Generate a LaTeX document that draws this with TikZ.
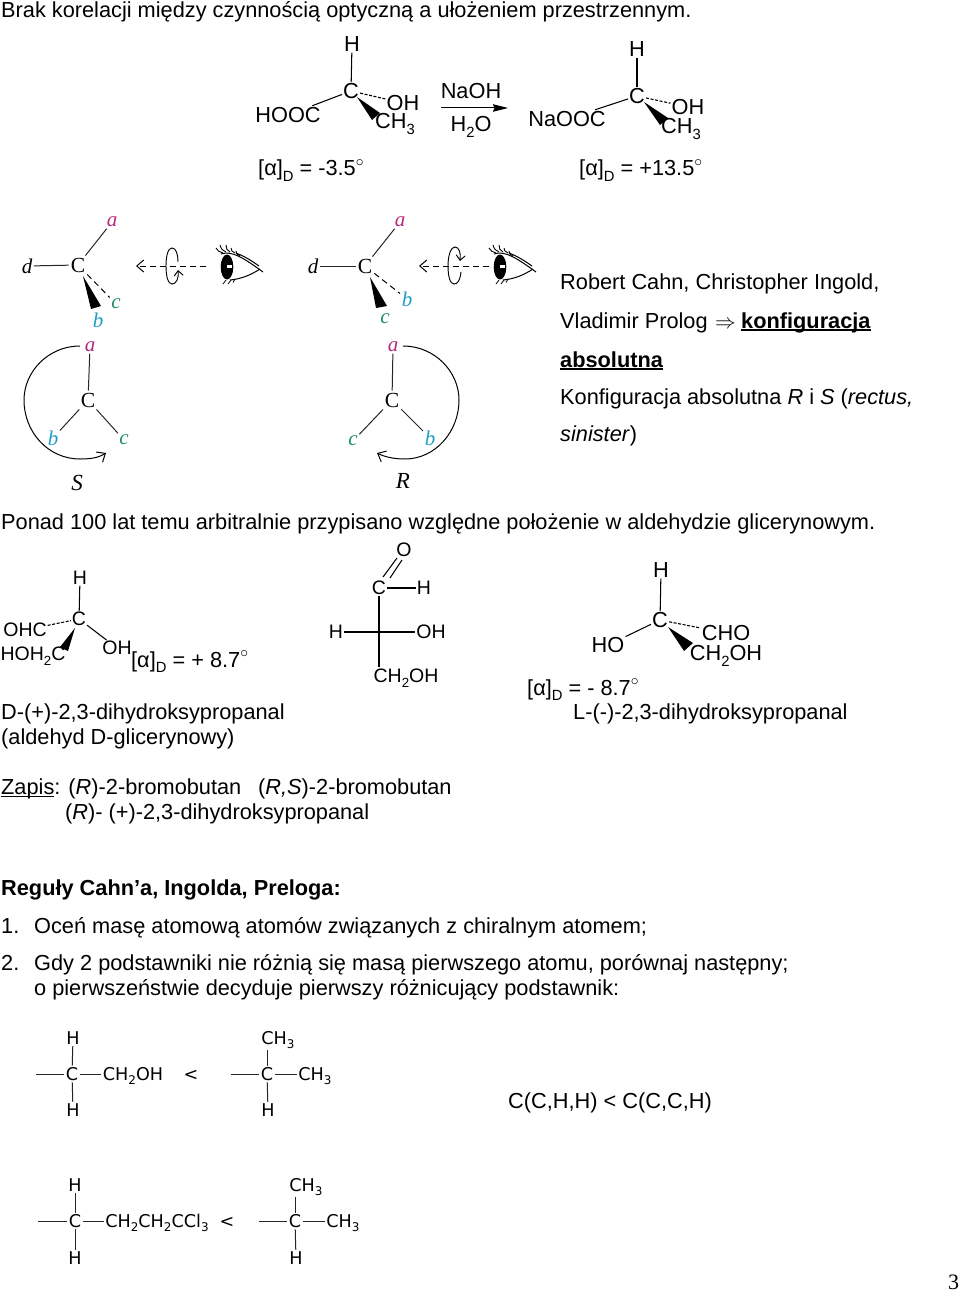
\documentclass[tikz,border=0pt]{standalone}
\usepackage{fontspec}
\usepackage{graphicx}
\setmainfont{Liberation Sans}
\newfontfamily\timesf{Liberation Serif}
\newfontfamily\dejaf{DejaVu Sans}
\usetikzlibrary{arrows.meta}
\definecolor{cma}{HTML}{B52A7C}
\definecolor{cmb}{HTML}{1E9DC4}
\definecolor{cmc}{HTML}{1F8A72}
\newcommand\lowr[1]{\raisebox{-0.24em}{\scalebox{0.68}{#1}}}
\newcommand\degr{\raisebox{0.42em}{\scalebox{0.75}{$\circ$}}}
\newsavebox\ubox
\newcommand\ubar[2][1.4pt]{\sbox\ubox{#2}\usebox\ubox\llap{\rule[-2.8pt]{\wd\ubox}{#1}}}
\tikzset{
  x=1pt,y=-1pt,
  txt/.style={anchor=base west,inner sep=0pt,font=\fontsize{21.75}{26}\selectfont},
  boldtxt/.style={txt,font=\fontsize{21.75}{26}\selectfont\bfseries},
  atom/.style={inner sep=1pt,font=\fontsize{21.75}{26}\selectfont},
  smatom/.style={inner sep=0.8pt,font=\fontsize{19.5}{24}\selectfont},
  serif/.style={inner sep=2pt,font=\fontsize{21.5}{26}\selectfont\timesf},
  lab/.style={inner sep=1.5pt,font=\fontsize{21}{24}\selectfont\timesf\itshape},
  dj/.style={inner sep=1.5pt,font=\fontsize{17.6}{22}\selectfont\dejaf},
  bond/.style={line width=1.05pt,black},
  dbond/.style={line width=1.1pt,dash pattern=on 3pt off 1.6pt},
  rbond/.style={line width=1pt,black!85},
  rdash/.style={line width=1pt,dash pattern=on 6pt off 4pt},
  barb/.style={-{Straight Barb[length=7pt,width=12pt]}},
  loopline/.style={line width=0.95pt,-{Straight Barb[length=5pt,width=9pt]}},
  pics/eyeview/.style={code={
    \fill (0,0) ellipse [x radius=6.3,y radius=12.5];
    \fill[white] (-0.5,-2.5) rectangle (4.5,1);
    \draw[line width=1pt] (-6,-13) .. controls (5,-17) and (18,-8) .. (36,5);
    \draw[line width=1pt] (9,-14) .. controls (17,-11) and (25,-6) .. (32,-1);
    \draw[line width=1pt] (3,13) .. controls (14,12) and (24,8) .. (33,2);
    \draw[line width=0.9pt] (-4,-14) .. controls (-7,-15) and (-10,-16) .. (-11,-19)
       (-1,-15) .. controls (-4,-16) and (-6,-18) .. (-7,-22)
       (3,-15) .. controls (0,-16) and (-1,-19) .. (-1,-22)
       (8,-14) .. controls (5,-15) and (4,-17) .. (4,-19)
       (13,-11) .. controls (10,-12) and (9,-14) .. (9,-16);
    \draw[line width=0.8pt] (-4,17) -- (-1,13) (1,17) -- (4,13) (6,15.5) -- (8,12);
  }}
}
\begin{document}
\begin{tikzpicture}
\useasboundingbox (0,0) rectangle (960,1292);
% --- paragraph text
\node[txt] (t1) at (1,18) {Brak korelacji między czynnością optyczną a ułożeniem przestrzennym.};
\node[txt] (r1) at (560,289) {Robert Cahn, Christopher Ingold,};
\node[txt] (r2) at (560,328) {Vladimir Prolog};
\node[txt] (r2a) at (715,328) {$\Rightarrow$};
\node[boldtxt] (r2b) at (741,328) {\ubar{konfiguracja}};
\node[boldtxt] (r3) at (560,367) {\ubar{absolutna}};
\node[txt] (r4) at (560,404) {Konfiguracja absolutna \textit{R} i \textit{S} (\textit{rectus,}};
\node[txt] (r5) at (560,441) {\textit{sinister})};
\node[txt] (t2) at (1,529) {Ponad 100 lat temu arbitralnie przypisano względne położenie w aldehydzie glicerynowym.};
\node[txt] (d1) at (1,719) {D-(+)-2,3-dihydroksypropanal};
\node[txt] (d2) at (1,744) {(aldehyd D-glicerynowy)};
\node[txt] (l1) at (573,719) {L-(-)-2,3-dihydroksypropanal};
\node[txt] (z1) at (1,794) {\ubar[1pt]{Zapis}: (\textit{R})-2-bromobutan};
\node[txt] (z2) at (258,794) {(\textit{R,S})-2-bromobutan};
\node[txt] (z3) at (65,819) {(\textit{R})- (+)-2,3-dihydroksypropanal};
\node[boldtxt] (h1) at (1,895) {Reguły Cahn’a, Ingolda, Preloga:};
\node[txt] (n1) at (1,933) {1.};
\node[txt] (n1t) at (34,933) {Oceń masę atomową atomów związanych z chiralnym atomem;};
\node[txt] (n2) at (1,970) {2.};
\node[txt] (n2t) at (34,970) {Gdy 2 podstawniki nie różnią się masą pierwszego atomu, porównaj następny;};
\node[txt] (n3t) at (34,995) {o pierwszeństwie decyduje pierwszy różnicujący podstawnik:};
\node[txt] (ccc) at (508,1108) {C(C,H,H) < C(C,C,H)};
\node[txt,font=\fontsize{22}{26}\selectfont\timesf] (pg) at (948,1289) {3};

% --- reaction
\node[atom] (aH) at (352,44) {H};
\node[atom] (aC) at (351,91) {C};
\node[atom] (aOH) at (403,103) {OH};
\node[atom] (aCH) at (395,124) {CH\lowr{3}};
\node[atom] (aR) at (288,115) {HOOC};
\draw[bond] (aH) -- (aC);
\draw[bond,shorten <=1pt] (aR) -- (aC);
\draw[dbond] (aC) -- (aOH);
\fill (357,97) -- (372,120) -- (380,113) -- cycle;
\node[txt] (aa) at (258,176) {[α]\lowr{D} = -3.5\degr};
\node[atom] (bH) at (637,49) {H};
\node[atom] (bC) at (637,96) {C};
\node[atom] (bOH) at (688,107) {OH};
\node[atom] (bCH) at (681,129) {CH\lowr{3}};
\node[atom] (bR) at (567,119) {NaOOC};
\draw[bond] (bH) -- (bC);
\draw[bond,shorten <=1pt] (bR) -- (bC);
\draw[dbond] (bC) -- (bOH);
\fill (644,102) -- (660,125) -- (668,118) -- cycle;
\node[txt] (ba) at (579,176) {[α]\lowr{D} = +13.5\degr};
\node[atom] (naoh) at (471,91) {NaOH};
\node[atom] (h2o) at (471,127) {H\lowr{2}O};
\coordinate (ra) at (441,108);
\coordinate (rb) at (508,108);
\draw[line width=1pt,-{Stealth[length=15pt,width=7.5pt,inset=1.5pt]}] (ra) -- (rb);

% --- left perspective
\node[serif] (c1) at (78,265) {C};
\node[lab,text=cma] (c1a) at (112,222) {a};
\node[lab] (c1d) at (27,266) {d};
\node[lab,text=cmc] (c1c) at (116,304) {c};
\node[lab,text=cmb] (c1b) at (98,320) {b};
\draw[rbond] (c1) -- (c1a);
\draw[rbond] (c1) -- (c1d);
\draw[rdash] (c1) -- (c1c);
\fill (83,276) -- (91,309) -- (101,306) -- cycle;
\coordinate (e1s) at (206,266);
\coordinate (e1t) at (136,266);
\draw[rdash,barb] (e1s) -- (e1t);
\draw[loopline] (178,262) .. controls (178,254) and (176,248) .. (172,248) .. controls (168,248) and (166,256) .. (166,266) .. controls (166,276) and (168,284) .. (172,284) .. controls (176,284) and (179,279) .. (178,270);
\pic at (227,267) {eyeview};
\node[serif] (c2) at (88,400) {C};
\node[lab,text=cma] (c2a) at (90,347) {a};
\node[lab,text=cmb] (c2b) at (53,438) {b};
\node[lab,text=cmc] (c2c) at (124,440) {c};
\node[lab,font=\fontsize{23}{26}\selectfont\timesf\itshape] (c2s) at (77,483) {S};
\draw[rbond] (c2) -- (c2a);
\draw[rbond] (c2) -- (c2b);
\draw[rbond] (c2) -- (c2c);
\coordinate (s1) at (80,346);
\coordinate (s2) at (106,453);
\draw[line width=1pt,barb] (s1) .. controls (48,346) and (24,372) .. (24,400) .. controls (24,432) and (48,459) .. (80,459) .. controls (90,459) and (98,458) .. (s2);

% --- right perspective
\node[serif] (c3) at (365,266) {C};
\node[lab,text=cma] (c3a) at (400,222) {a};
\node[lab] (c3d) at (313,266) {d};
\node[lab,text=cmb] (c3b) at (407,299) {b};
\node[lab,text=cmc] (c3c) at (385,319) {c};
\draw[rbond] (c3) -- (c3a);
\draw[rbond] (c3) -- (c3d);
\draw[rdash] (c3) -- (c3b);
\fill (370,277) -- (376,308) -- (387,306) -- cycle;
\coordinate (e2s) at (489,266);
\coordinate (e2t) at (419,266);
\draw[rdash,barb] (e2s) -- (e2t);
\draw[loopline] (461,272) .. controls (460,280) and (458,284) .. (454,284) .. controls (450,284) and (448,276) .. (448,266) .. controls (448,255) and (451,247) .. (455,247) .. controls (459,247) and (461,253) .. (460,261);
\pic at (500,267) {eyeview};
\node[serif] (c4) at (392,400) {C};
\node[lab,text=cma] (c4a) at (393,347) {a};
\node[lab,text=cmc] (c4c) at (353,441) {c};
\node[lab,text=cmb] (c4b) at (430,438) {b};
\node[lab,font=\fontsize{23}{26}\selectfont\timesf\itshape] (c4r) at (403,481) {R};
\draw[rbond] (c4) -- (c4a);
\draw[rbond] (c4) -- (c4c);
\draw[rbond] (c4) -- (c4b);
\coordinate (q1) at (403,346);
\coordinate (q2) at (377,453);
\draw[line width=1pt,barb] (q1) .. controls (435,346) and (459,372) .. (459,400) .. controls (459,432) and (435,459) .. (405,459) .. controls (394,459) and (385,457) .. (q2);

% --- D-glyceraldehyde
\node[smatom] (dH) at (80,578) {H};
\node[smatom] (dC) at (79,619) {C};
\node[smatom] (dO) at (25,630) {OHC};
\node[smatom] (dOH) at (117,648) {OH};
\node[smatom] (dCH) at (33,656) {HOH\lowr{2}C};
\draw[bond] (dH) -- (dC);
\draw[bond] (dC) -- (dOH);
\draw[dbond] (dO) -- (dC);
\fill (75,628) -- (60,647) -- (68,651) -- cycle;
\node[txt] (da) at (131,667) {[α]\lowr{D} = + 8.7\degr};

% --- Fischer
\node[smatom] (fO) at (404,550) {O};
\node[smatom] (fC) at (379,588) {C};
\node[smatom] (fH) at (424,588) {H};
\node[smatom] (fL) at (336,632) {H};
\node[smatom] (fR) at (431,632) {OH};
\node[smatom] (fB) at (406,678) {CH\lowr{2}OH};
\coordinate (fD) at (379,667);
\coordinate (fd1a) at (383,577);
\coordinate (fd1b) at (397,558);
\coordinate (fd2a) at (390,578);
\coordinate (fd2b) at (402,560);
\draw[bond] (fC) -- (fH);
\draw[bond] (fC) -- (fD);
\draw[bond] (fL) -- (fR);
\draw[bond] (fd1a) -- (fd1b);
\draw[bond] (fd2a) -- (fd2b);

% --- L-glyceraldehyde
\node[atom] (lH) at (661,570) {H};
\node[atom] (lC) at (660,620) {C};
\node[atom] (lHO) at (608,645) {HO};
\node[atom] (lCHO) at (726,633) {CHO};
\node[atom] (lCH) at (726,656) {CH\lowr{2}OH};
\draw[bond] (lH) -- (lC);
\draw[bond] (lHO) -- (lC);
\draw[dbond] (lC) -- (lCHO);
\fill (668,627) -- (684,651) -- (693,643) -- cycle;
\node[txt] (la) at (527,695) {[α]\lowr{D} = - 8.7\degr};

% --- bottom row 1
\node[dj] (p1H) at (73,1038) {H};
\node[dj] (p1C) at (72,1074) {C};
\node[dj] (p1D) at (73,1110) {H};
\node[dj] (p1R) at (133,1076) {CH\lowr{2}OH};
\coordinate (p1L) at (36,1074);
\draw[rbond] (p1H) -- (p1C);
\draw[rbond] (p1C) -- (p1D);
\draw[rbond] (p1C) -- (p1L);
\draw[rbond] (p1C) -- (p1R.west |- p1C);
\node[dj] (lt1) at (191,1075) {<};
\node[dj] (p2U) at (278,1040) {CH\lowr{3}};
\node[dj] (p2C) at (267,1074) {C};
\node[dj] (p2D) at (268,1110) {H};
\node[dj] (p2R) at (315,1076) {CH\lowr{3}};
\coordinate (p2L) at (231,1074);
\draw[rbond] (p2C) -- (p2C |- p2U.south);
\draw[rbond] (p2C) -- (p2D);
\draw[rbond] (p2C) -- (p2L);
\draw[rbond] (p2C) -- (p2R.west |- p2C);
% --- bottom row 2
\node[dj] (p3H) at (75,1185) {H};
\node[dj] (p3C) at (75,1221) {C};
\node[dj] (p3D) at (75,1258) {H};
\node[dj] (p3R) at (157,1223) {CH\lowr{2}CH\lowr{2}CCl\lowr{3}};
\coordinate (p3L) at (38,1221);
\draw[rbond] (p3H) -- (p3C);
\draw[rbond] (p3C) -- (p3D);
\draw[rbond] (p3C) -- (p3L);
\draw[rbond] (p3C) -- (p3R.west |- p3C);
\node[dj] (lt2) at (227,1222) {<};
\node[dj] (p4U) at (306,1187) {CH\lowr{3}};
\node[dj] (p4C) at (295,1221) {C};
\node[dj] (p4D) at (296,1258) {H};
\node[dj] (p4R) at (343,1223) {CH\lowr{3}};
\coordinate (p4L) at (259,1221);
\draw[rbond] (p4C) -- (p4C |- p4U.south);
\draw[rbond] (p4C) -- (p4D);
\draw[rbond] (p4C) -- (p4L);
\draw[rbond] (p4C) -- (p4R.west |- p4C);
\end{tikzpicture}
\end{document}
